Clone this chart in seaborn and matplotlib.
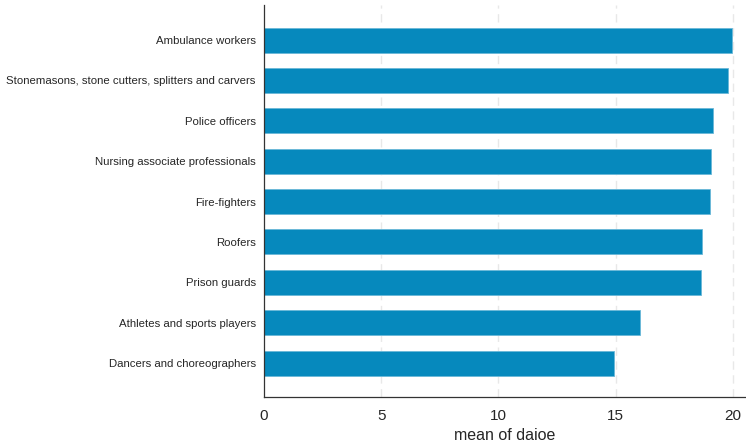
import pandas as pd
import numpy as np
import matplotlib.pyplot as plt
import seaborn as sns

# occupations and their mean daioe score
occupations = ["Ambulance workers",
               "Stonemasons, stone cutters, splitters and carvers",
               "Police officers",
               "Nursing associate professionals",
               "Fire-fighters",
               "Roofers",
               "Prison guards",
               "Athletes and sports players",
               "Dancers and choreographers"]
daioe = [19.96, 19.81, 19.15, 19.09, 19.03, 18.68, 18.63, 16.06, 14.93]
xticks = [0, 5, 10, 15, 20]

df = pd.DataFrame({"occupation": occupations, "daioe": daioe})

sns.set_style("white")
plt.rcParams['font.family'] = ['Liberation Sans', 'DejaVu Sans']

fig = plt.figure(figsize=(7.46, 4.46), dpi=100)
ax = fig.add_axes([0.354, 0.110, 0.646, 0.879])

sns.barplot(data=df, x="daioe", y="occupation", color="#0689bd",
            saturation=1, width=0.62, ax=ax, zorder=3,
            edgecolor="#6ab8d8", linewidth=0.6)

for t in xticks[1:]:
    ax.axvline(t, color="#e8e8e8", lw=1, ls=(0, (6, 4)), zorder=1)

ax.set_xlim(0, 20.57)
ax.set_ylim(8.84, -0.87)
ax.set_xticks(xticks)
ax.set_xticklabels([str(t) for t in xticks], fontsize=11)
ax.tick_params(axis="x", length=5, width=0.8, color="#333333", pad=4)
ax.tick_params(axis="y", length=0, labelsize=8.2, pad=6)
ax.set_xlabel("mean of daioe", fontsize=11.5, labelpad=3)
ax.set_ylabel("")

for s in ["top", "right"]:
    ax.spines[s].set_visible(False)
for s in ["left", "bottom"]:
    ax.spines[s].set_color("#333333")
    ax.spines[s].set_linewidth(0.9)
    ax.spines[s].set_zorder(5)

fig.savefig("out.png", dpi=100)
